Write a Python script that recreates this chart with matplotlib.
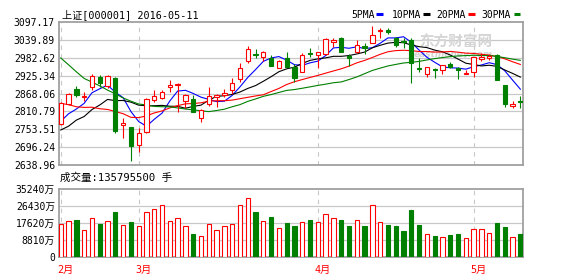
import numpy as np
import pandas as pd
import matplotlib
matplotlib.use("Agg")
import matplotlib.pyplot as plt
from matplotlib.patches import Rectangle
from matplotlib.lines import Line2D

# ---------------- data ----------------
# closes of the 29 sessions before the first shown day (MA warm-up)
prior_closes = [3563.74, 3572.88, 3539.18, 3296.26, 3287.71, 3361.84, 3125.00, 3186.41,
                3016.70, 3022.86, 2949.60, 3007.65, 2900.97, 2913.84, 3007.74, 2976.69,
                2880.48, 2916.56, 2938.51, 2749.79, 2735.56, 2655.66, 2737.60, 2688.85,
                2749.57, 2739.25, 2781.02, 2763.49, 2746.20]

opens = [2763, 2831, 2883, 2856, 2891, 2924, 2893, 2921, 2761, 2755,
         2692, 2735, 2847, 2851, 2889, 2896, 2842, 2848, 2783, 2831,
         2856, 2861, 2878, 2916, 2979, 3002, 2993, 2987, 2955, 2989,
         2959, 2942, 3006, 2999, 3001, 3042, 3055, 2995, 3008, 3029,
         3041, 3080, 3083, 3055, 3046, 3050, 2955, 2933, 2951, 2948,
         2968, 2953, 2935, 2942, 2984, 2987, 2999, 2896, 2826, 2842]
highs = [2838, 2868, 2894, 2872, 2933, 2930, 2930, 2922, 2783, 2755,
         2749, 2851, 2878, 2878, 2912, 2903, 2865, 2862, 2814, 2891,
         2865, 2883, 2919, 2970, 3029, 3018, 3012, 2999, 2980, 3010,
         2967, 3004, 3021, 3010, 3058, 3055, 3061, 3001, 3050, 3038,
         3097.17, 3089, 3092, 3061, 3055, 3055, 2987, 2959, 2953, 2965,
         2976, 2959, 2948, 2993, 3004, 3001, 3003, 2897, 2842, 2859]
lows = [2760, 2828, 2856, 2842, 2879, 2891, 2885, 2732, 2715, 2638.96,
        2670, 2733, 2840, 2850, 2872, 2803, 2819, 2803, 2772, 2826,
        2823, 2857, 2867, 2908, 2972, 2987, 2978, 2960, 2953, 2957,
        2908, 2940, 2993, 2955, 2999, 3027, 3008, 2962, 3007, 3001,
        3040, 3055, 3069, 3027, 3021, 2904, 2942, 2925, 2919, 2933,
        2953, 2917, 2934, 2925, 2978, 2980, 2912, 2823, 2819, 2819]
closes = [2836, 2866, 2862, 2860, 2926, 2904, 2928, 2741, 2768, 2690,
          2733, 2849, 2859, 2873, 2897, 2901, 2862, 2805, 2810, 2859,
          2864, 2869, 2903, 2955, 3019, 2998, 3009, 2961, 2979, 2958,
          2920, 2999, 3003, 3008, 3053, 3050, 3009, 2987, 3033, 3022,
          3066, 3084, 3078, 3033, 3042, 2972, 2951, 2956, 2948, 2963,
          2957, 2946, 2937.5, 2990, 2992, 2996, 2913, 2833, 2832, 2837]
volumes = [19370, 21170, 21970, 15780, 22970, 19570, 21170, 26760, 18770, 20770,
           18170, 26560, 28360, 30750, 21170, 22970, 18170, 13580, 12180, 19370,
           15780, 18170, 19370, 30750, 35240, 26760, 21170, 23760, 16970, 20170,
           18370, 20570, 21970, 20570, 25360, 22970, 21970, 18370, 21770, 18370,
           30750, 20570, 18970, 18370, 15380, 27960, 18970, 13380, 12380, 11580,
           12980, 13580, 10980, 16380, 16380, 13980, 20170, 17770, 11580, 13579.55]

price_labels = ['2638.96', '2696.24', '2753.51', '2810.79', '2868.06',
                '2925.34', '2982.62', '3039.89', '3097.17']
vol_labels = ['0', '8810万', '17620万', '26430万', '35240万']
month_names = ['2月', '3月', '4月', '5月']
month_starts = [0, 10, 33, 53]
ma_periods = [5, 10, 20, 30]
ma_colors = ['#0000ff', '#000000', '#ff0000', '#008000']
ma_names = ['5PMA', '10PMA', '20PMA', '30PMA']
title = '上证[000001] 2016-05-11'
vol_title = '成交量:135795500 手'

# ---------------- figure ----------------
W, H = 578, 276
DPI = 100
fig = plt.figure(figsize=(W / DPI, H / DPI), dpi=DPI, facecolor='white')
MONO = ['DejaVu Sans Mono', 'Noto Sans CJK SC']

def fx(x):
    return x / W

def fy(y):
    return 1 - y / H

RED = '#ff0000'
GREEN = '#008000'
GRID = '#c8c8c8'
BORDER = '#a0a0a0'

L, R = 58.7, 522.7
ax = fig.add_axes([fx(L), fy(165), fx(R) - fx(L), fy(22.3) - fy(165)])
axv = fig.add_axes([fx(L), fy(256.7), fx(R) - fx(L), fy(189.3) - fy(256.7)])

n = len(closes)
idx = np.arange(n)
xlo, xhi = -0.27, 59.3
bw = 0.55

for a in (ax, axv):
    a.set_xlim(xlo, xhi)
    a.set_xticks([])
    for s in a.spines.values():
        s.set_color(BORDER)
        s.set_linewidth(1.3)
    for m in month_starts:
        a.axvline(m, color=GRID, lw=0.8, ls=(0, (4, 4)), zorder=0.5)
    a.tick_params(axis='y', length=0, pad=2.7, labelsize=7, labelcolor='#000000')

ylo, yhi = 2624.23, 3109.76
ax.set_ylim(ylo, yhi)
pt = np.linspace(ylo, yhi, 9)
ax.set_yticks(pt)
ax.set_yticklabels(price_labels, family=MONO)
for v in pt[1:-1]:
    ax.axhline(v, color=GRID, lw=0.9, zorder=0.4)

# watermark
ax.text(0.935, 0.86, '东方财富网', transform=ax.transAxes, ha='right', va='center',
        fontsize=10.5, fontweight='bold', color='#d4d4d4', family=['Noto Sans CJK SC'], zorder=0.6)
ax.text(0.935, 0.775, 'eastmoney.com', transform=ax.transAxes, ha='right', va='center',
        fontsize=6.5, fontweight='bold', fontstyle='italic', color='#d4d4d4',
        family=['DejaVu Sans'], zorder=0.6)

# moving averages
all_close = pd.Series(list(prior_closes) + list(closes), dtype=float)
for p, c in zip(ma_periods, ma_colors):
    ma = all_close.rolling(p).mean().to_numpy()[-n:]
    ax.plot(idx, ma, color=c, lw=0.8, zorder=2)

# candles
for i in range(n):
    o, h, l, c = opens[i], highs[i], lows[i], closes[i]
    up = c >= o
    col = RED if up else GREEN
    ax.vlines(i, l, h, color=col, lw=0.8, zorder=3)
    bottom = min(o, c)
    height = max(abs(c - o), 0.6)
    ax.add_patch(Rectangle((i - bw / 2, bottom), bw, height,
                           facecolor='white' if up else GREEN, edgecolor=col,
                           lw=0.8, zorder=4))

# volume panel
vhi = 40340
axv.set_ylim(0, vhi)
vt = np.linspace(0, vhi, 5)
axv.set_yticks(vt)
axv.set_yticklabels(vol_labels, family=MONO)
for v in vt[1:-1]:
    axv.axhline(v, color=GRID, lw=0.9, zorder=0.4)
for i in range(n):
    up = closes[i] >= opens[i]
    col = RED if up else GREEN
    axv.add_patch(Rectangle((i - bw / 2, 0), bw, volumes[i],
                            facecolor='white' if up else GREEN, edgecolor=col,
                            lw=0.8, zorder=3))

# texts
fig.text(fx(61.5), fy(18.3), title, fontsize=7.3, family=MONO, va='baseline', ha='left')
fig.text(fx(60), fy(181), vol_title, fontsize=7.6, family=MONO, va='baseline', ha='left')

leg_text_x = [351.3, 392, 436, 481]
leg_bar_x = [(376, 383), (423, 430), (468, 475), (514, 520)]
for name, c, tx, (b1, b2) in zip(ma_names, ma_colors, leg_text_x, leg_bar_x):
    fig.text(fx(tx), fy(18.3), name, fontsize=7, family=MONO, va='baseline', ha='left')
    fig.add_artist(Line2D([fx(b1), fx(b2)], [fy(13.5), fy(13.5)], color=c, lw=2.2,
                          solid_capstyle='butt'))

for name, m in zip(month_names, month_starts):
    xpix = L + (m - xlo) / (xhi - xlo) * (R - L)
    fig.text(fx(xpix - 3.3), fy(272.5), name, fontsize=7.3, family=MONO, color=RED,
             va='baseline', ha='left')

fig.savefig('out.png', dpi=DPI, facecolor='white')
